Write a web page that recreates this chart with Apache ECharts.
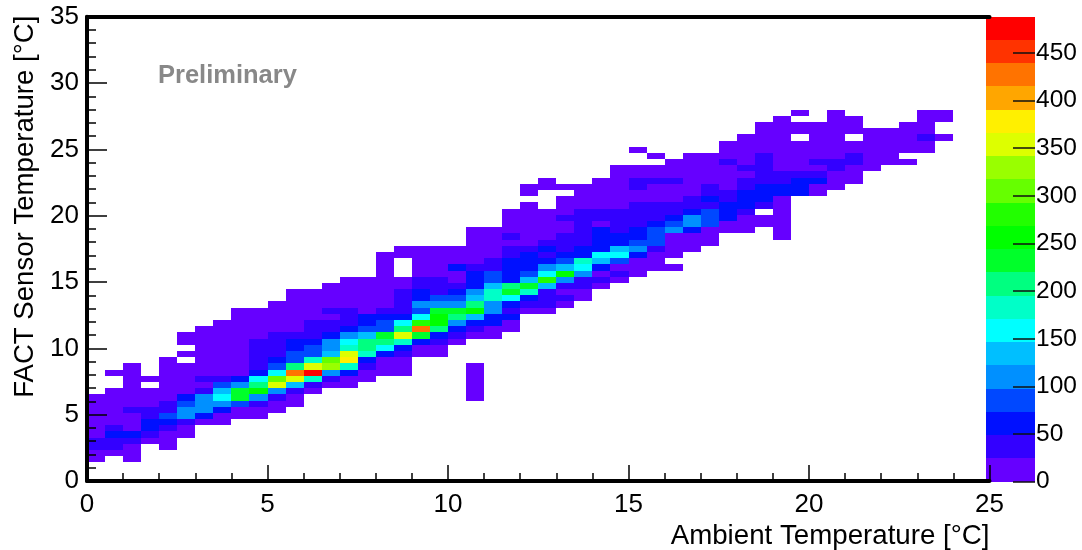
<!DOCTYPE html>
<html>
<head>
<meta charset="utf-8">
<style>html,body{margin:0;padding:0;background:#fff}#c{width:1082px;height:550px}</style>
<script src="https://cdn.jsdelivr.net/npm/echarts@6/dist/echarts.min.js"></script>
</head>
<body>
<div id="c"></div>
<script>
// Histogram binning (data units)
const xBinWidth = 0.5;
const yBinWidth = 35 / 75;
const firstRowBin = 3;

// Counts per temperature row: each list starts at the x bin given in rowFirstBin
const row03 = [12,0,12];
const row04 = [12,12,12];
const row05 = [36,36,12,0,12];
const row06 = [36,36,36,12,12];
const row07 = [12,61,61,36,12,12];
const row08 = [12,36,12,61,36,12];
const row09 = [12,12,12,61,61,36,12,12];
const row10 = [12,12,12,36,85,110,61,12,12,12];
const row11 = [12,12,36,36,36,110,110,61,12,12,12];
const row12 = [12,12,12,12,36,85,110,110,85,36,12,12];
const row13 = [12,12,12,12,12,61,110,158,231,110,36,12,0,0,0,0,0,0,0,0,0,12];
const row14 = [12,12,12,12,12,36,134,231,256,110,36,12,0,0,0,0,0,0,0,0,12];
const row15 = [12,0,12,12,12,85,110,207,353,134,36,12,12,0,0,0,0,0,0,12];
const row16 = [12,12,12,12,36,36,61,158,304,353,183,36,12,12,0,0,0,0,0,12];
const row17 = [12,12,0,12,12,12,12,12,61,158,426,475,110,61,12,12,12,0,0,0,12];
const row18 = [12,0,12,12,12,12,12,36,85,207,353,329,183,36,12,12,0,0,0,12];
const row19 = [12,0,12,12,12,36,61,85,183,304,377,61,12,12];
const row20 = [12,12,12,12,36,36,85,85,134,353,183,61,36,12,12];
const row21 = [12,12,12,36,36,61,85,110,183,207,158,61,12,12];
const row22 = [12,12,12,12,36,36,61,61,110,158,207,207,183,61,36,12];
const row23 = [12,12,12,12,12,36,36,36,61,110,134,231,353,231,61,36,12,12];
const row24 = [12,12,12,12,12,12,36,36,61,85,85,207,426,207,61,36,12,12];
const row25 = [12,12,12,12,12,36,36,36,61,85,158,280,256,110,61,61,12];
const row26 = [12,12,12,12,12,12,36,61,61,61,158,256,207,134,61,61];
const row27 = [12,12,12,12,12,36,36,12,36,36,85,231,231,256,110,36,12,12];
const row28 = [12,12,12,12,12,12,12,36,110,110,110,207,110,61,36,36,12];
const row29 = [12,12,12,12,12,12,36,61,85,85,134,183,158,61,36,36,12];
const row30 = [12,12,12,12,12,12,36,61,36,61,110,183,231,183,36,12,12];
const row31 = [12,12,12,12,12,36,36,36,61,134,207,231,134,36,36,12];
const row32 = [12,12,12,12,36,36,12,61,85,61,134,280,110,36,36,12];
const row33 = [12,0,12,12,12,61,85,61,85,158,256,110,12,36,12];
const row34 = [12,0,12,12,61,36,36,61,61,110,134,158,61,12,12,12,12];
const row35 = [12,0,12,12,12,12,36,61,61,61,85,183,134,85,12,12];
const row36 = [12,12,12,12,12,12,12,36,61,36,61,61,158,158,61,12,12];
const row37 = [12,12,12,12,12,12,36,36,61,36,61,61,134,110,36,12,12];
const row38 = [12,12,12,12,36,36,36,61,61,85,85,12,12,12];
const row39 = [12,12,36,12,12,36,36,61,61,61,85,12,12,12,0,0,0,12];
const row40 = [12,12,12,12,12,12,36,61,36,61,85,110,61,12,12,12,0,12];
const row41 = [12,12,12,12,36,12,36,36,61,85,110,85,12,12,12,12];
const row42 = [12,12,12,36,36,36,36,36,36,61,110,85,61,12,12,12];
const row43 = [12,12,12,12,36,36,36,36,36,36,61,85,61,36,0,12];
const row44 = [12,0,12,12,12,12,36,36,36,36,36,61,61,36,12];
const row45 = [12,12,12,12,12,12,12,36,61,36,61,61,12];
const row46 = [12,0,0,12,12,12,12,12,12,12,36,36,61,61,61,61,12];
const row47 = [12,12,12,12,12,12,36,12,12,12,36,12,36,61,61,61,12,12];
const row48 = [12,0,0,12,12,36,36,36,12,12,12,36,36,36,61,61,12,12];
const row49 = [12,12,12,12,12,12,12,12,36,36,36,36,12,12];
const row50 = [12,12,12,12,12,12,12,36,36,12,12,12,36,12,12];
const row51 = [12,12,12,36,12,36,12,12,36,36,36,12,12,12];
const row52 = [12,0,12,12,12,12,36,12,12,12,12,36,12,12];
const row53 = [12,0,0,0,0,12,12,12,12,12,12,12,12,12,12,12,12];
const row54 = [12,12,12,12,12,12,12,12,12,12,12,12];
const row55 = [12,12,12,0,12,12,0,12,12,12,36,12];
const row56 = [12,12,12,12,12,12,12,12,12,12];
const row57 = [12,12,12,12,12,12,0,0,12,12];
const row58 = [12,0,0,12,12,0,0,0,12,12];
const row59 = [12,0,12,0,0,0,0,12,12];

const rowFirstBin = [0,0,0,0,0,0,0,0,0,0,0,1,2,2,1,2,4,5,6,5,5,6,7,8,8,10,11,11,13,14,16,16,16,16,17,21,21,21,23,23,23,24,26,24,24,25,29,29,32,31,30,35,36,37,37,38,39];
const rows = [row03,row04,row05,row06,row07,row08,row09,row10,row11,row12,row13,row14,row15,row16,row17,row18,row19,row20,row21,row22,row23,row24,row25,row26,row27,row28,row29,row30,row31,row32,row33,row34,row35,row36,row37,row38,row39,row40,row41,row42,row43,row44,row45,row46,row47,row48,row49,row50,row51,row52,row53,row54,row55,row56,row57,row58,row59];

// Colour scale
const colorBarMax = 488;
const palette = ['#6600ff','#3300ff','#0010ff','#0048ff','#0090ff','#00bfff','#00ffff','#00ffc8','#00ff80','#00ff2a','#00ff00','#22ff00','#66ff00','#99ff00','#ddff00','#fff000','#ffa600','#ff7300','#ff3300','#ff0000'];
const bandWidth = colorBarMax / palette.length;
const colorOf = v => palette[Math.min(palette.length - 1, Math.floor(v / bandWidth))];

const FONT = '"Liberation Sans", Arial, sans-serif';

const cells = [];
rows.forEach((row, r) => row.forEach((count, i) => {
  if (count > 0) cells.push([rowFirstBin[r] + i, firstRowBin + r, count]);
}));
const bands = palette.map((c, i) => [i]);

const chart = echarts.init(document.getElementById('c'), null, {renderer: 'canvas'});
chart.setOption({
  animation: false,
  backgroundColor: '#fff',
  grid: [
    {left: 87, right: 92.5, top: 16.7, bottom: 68.3},
    {left: 986, width: 49, top: 16.7, bottom: 68.3}
  ],
  xAxis: [
    {
      type: 'value', gridIndex: 0, position: 'bottom', min: 0, max: 25, interval: 5,
      z: 10,
      axisLine: {show: true, onZero: false, lineStyle: {color: '#000', width: 4}},
      axisTick: {show: true, inside: true, length: 16, lineStyle: {color: '#000', width: 1.5}},
      minorTick: {show: true, splitNumber: 5, length: 8, lineStyle: {color: '#000', width: 1.5}},
      splitLine: {show: false},
      axisLabel: {color: '#000', fontFamily: FONT, fontSize: 26, margin: 11},
      name: 'Ambient Temperature [°C]', nameLocation: 'end', nameGap: 0, nameMoveOverlap: false,
      nameTextStyle: {color: '#000', fontFamily: FONT, fontSize: 27.7, align: 'right', verticalAlign: 'top', padding: [41, 0, 0, 0]}
    },
    {
      type: 'value', gridIndex: 0, position: 'top', min: 0, max: 25, z: 10,
      axisLine: {show: true, onZero: false, lineStyle: {color: '#000', width: 4}},
      axisTick: {show: false}, axisLabel: {show: false}, splitLine: {show: false}
    },
    {
      type: 'value', gridIndex: 1, min: 0, max: 1, show: false
    }
  ],
  yAxis: [
    {
      type: 'value', gridIndex: 0, position: 'left', min: 0, max: 35, interval: 5,
      z: 10,
      axisLine: {show: true, onZero: false, lineStyle: {color: '#000', width: 4}},
      axisTick: {show: true, inside: true, length: 20, lineStyle: {color: '#000', width: 1.5}},
      minorTick: {show: true, splitNumber: 5, length: 9, lineStyle: {color: '#000', width: 1.5}},
      splitLine: {show: false},
      axisLabel: {color: '#000', fontFamily: FONT, fontSize: 26, margin: 8, padding: [6, 0, 0, 0]},
      name: 'FACT Sensor Temperature [°C]', nameLocation: 'end', nameGap: 1, nameRotate: 90, nameMoveOverlap: false,
      nameTextStyle: {color: '#000', fontFamily: FONT, fontSize: 27.6, align: 'right', verticalAlign: 'bottom', padding: [0, 0, 48, 0]}
    },
    {
      type: 'value', gridIndex: 1, position: 'right', min: 0, max: colorBarMax, interval: 50,
      z: 10,
      axisLine: {show: false, onZero: false},
      axisTick: {show: true, inside: true, length: 22, lineStyle: {color: '#111', width: 1.5}},
      splitLine: {show: false},
      axisLabel: {color: '#000', fontFamily: FONT, fontSize: 24.5, margin: 1, padding: [3, 0, 0, 0], showMaxLabel: false}
    }
  ],
  series: [
    {
      type: 'custom', xAxisIndex: 0, yAxisIndex: 0, coordinateSystem: 'cartesian2d', silent: true,
      data: cells,
      encode: {x: 0, y: 1},
      clip: true,
      renderItem: (params, api) => {
        const bx = api.value(0), by = api.value(1), v = api.value(2);
        const a = api.coord([bx * xBinWidth, by * yBinWidth]);
        const b = api.coord([(bx + 1) * xBinWidth, (by + 1) * yBinWidth]);
        const x0 = Math.round(a[0]), x1 = Math.round(b[0]), y0 = Math.round(a[1]), y1 = Math.round(b[1]);
        return {type: 'rect', shape: {x: x0, y: y1, width: x1 - x0, height: y0 - y1}, style: {fill: colorOf(v)}};
      }
    },
    {
      type: 'custom', xAxisIndex: 2, yAxisIndex: 1, coordinateSystem: 'cartesian2d', silent: true,
      data: bands,
      encode: {y: 0},
      renderItem: (params, api) => {
        const i = api.value(0);
        const a = api.coord([0, i * bandWidth]);
        const b = api.coord([1, (i + 1) * bandWidth]);
        const y0 = Math.round(a[1]), y1 = Math.round(b[1]);
        return {type: 'rect', shape: {x: a[0], y: y1, width: b[0] - a[0], height: y0 - y1}, style: {fill: palette[i]}};
      }
    }
  ],
  graphic: [
    {type: 'text', left: 158, top: 63, z: 20, silent: true,
     style: {text: 'Preliminary', fill: '#888888', font: 'bold 25.5px ' + FONT}}
  ]
});
</script>
</body>
</html>
